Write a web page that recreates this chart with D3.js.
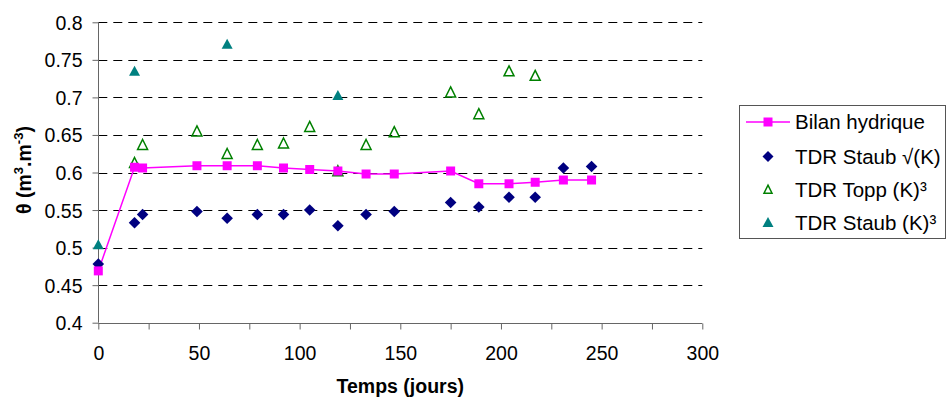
<!DOCTYPE html>
<html><head><meta charset="utf-8">
<script src="https://cdn.jsdelivr.net/npm/d3@7"></script>
<style>body{margin:0;background:#fff}svg{display:block;font-family:Arial,"Liberation Sans",sans-serif}</style>
</head><body><svg id="c" width="947" height="401"></svg>
<script>
const xTicks=[0,50,100,150,200,250,300];
const yTicks=[0.4,0.45,0.5,0.55,0.6,0.65,0.7,0.75,0.8];
const bilanDays=[0,18,22,49,64,79,92,105,119,133,147,175,189,204,217,231,245];
const bilanVals=[0.469,0.607,0.606,0.609,0.609,0.609,0.606,0.604,0.602,0.598,0.598,0.602,0.585,0.585,0.587,0.590,0.590];
const staubSqrtDays=[0,18,22,49,64,79,92,105,119,133,147,175,189,204,217,231,245];
const staubSqrtVals=[0.478,0.533,0.544,0.548,0.539,0.544,0.544,0.550,0.529,0.544,0.548,0.560,0.554,0.567,0.567,0.606,0.608];
const toppDays=[18,22,49,64,79,92,105,119,133,147,175,189,204,217];
const toppVals=[0.612,0.636,0.654,0.624,0.636,0.638,0.660,0.601,0.636,0.653,0.706,0.677,0.734,0.728];
const staubCubeDays=[0,18,64,119];
const staubCubeVals=[0.503,0.734,0.770,0.702];
const seriesNames=["Bilan hydrique","TDR Staub \u221A(K)","TDR Topp (K)\u00B3","TDR Staub (K)\u00B3"];

const svg=d3.select("#c");
const x=d3.scaleLinear().domain([0,300]).range([98.3,702.3]);
const y=d3.scaleLinear().domain([0.4,0.8]).range([322.7,22.3]);
const FS=19.5, LFS=20.5;

// gridlines
svg.append("g").selectAll("line").data(yTicks.filter(v=>v>0.4)).join("line")
 .attr("x1",x(0)).attr("x2",x(300)).attr("y1",d=>Math.round(y(d))+0.5).attr("y2",d=>Math.round(y(d))+0.5)
 .attr("stroke","#000").attr("stroke-width",1).attr("stroke-dasharray","9,6");

// axes
const xa=svg.append("g").attr("transform",`translate(0,${Math.round(y(0.4))+0.5})`)
 .call(d3.axisBottom(x).tickValues(d3.range(0,301,25)).tickSize(6).tickFormat(d=>xTicks.includes(d)?d:""));
xa.select(".domain").attr("stroke","#666").attr("d",`M${x(0)},0H${x(300)}`);
xa.selectAll(".tick line").attr("stroke","#666");
xa.selectAll("text").attr("font-size",FS).attr("font-family","Arial, Liberation Sans").attr("fill","#000").attr("dy",null).attr("y",36);

const ya=svg.append("g").attr("transform",`translate(${Math.round(x(0))+0.5},0)`)
 .call(d3.axisLeft(y).tickValues(yTicks).tickSize(6).tickFormat(d=>d3.format("")(+d.toFixed(2))));
ya.select(".domain").attr("stroke","#666").attr("d",`M0,${y(0.4)}V${y(0.8)}`);
ya.selectAll(".tick line").attr("stroke","#666");
ya.selectAll("text").attr("font-size",FS).attr("font-family","Arial, Liberation Sans").attr("fill","#000").attr("x",-16).attr("dy","0.36em");

// axis titles
svg.append("text").attr("x",(x(0)+x(300))/2).attr("y",393).attr("text-anchor","middle")
 .attr("font-weight","bold").attr("font-size",FS).text("Temps (jours)");
const yt=svg.append("text").attr("transform","translate(31,170) rotate(-90)").attr("text-anchor","middle")
 .attr("font-weight","bold").attr("font-size",FS);
yt.append("tspan").text("\u03B8 (m");
yt.append("tspan").attr("font-size",13).attr("dy",-8).text("3");
yt.append("tspan").attr("dy",8).text(".m");
yt.append("tspan").attr("font-size",13).attr("dy",-8).text("-3");
yt.append("tspan").attr("dy",8).text(")");

// markers
const sq=d3.symbol().type(d3.symbolSquare).size(81);
const dia=(s)=>`M0,${-s}L${s},0L0,${s}L${-s},0Z`;
const tri=(w,h)=>`M0,${-h*0.6}L${w/2},${h*0.4}L${-w/2},${h*0.4}Z`;

const bil=bilanDays.map((d,i)=>[d,bilanVals[i]]);
svg.append("path").datum(bil).attr("fill","none").attr("stroke","#FF00FF").attr("stroke-width",1.5)
 .attr("d",d3.line().x(d=>x(d[0])).y(d=>y(d[1])));

function plot(days,vals,pathStr,fill,stroke,sw){
 svg.append("g").selectAll("path").data(days.map((d,i)=>[d,vals[i]])).join("path")
  .attr("transform",d=>`translate(${x(d[0])},${y(d[1])})`).attr("d",pathStr)
  .attr("fill",fill).attr("stroke",stroke).attr("stroke-width",sw);
}
plot(staubCubeDays,staubCubeVals,tri(11,10),"#008080","none",0);
plot(toppDays,toppVals,tri(10,10),"none","#008000",1.5);
plot(staubSqrtDays,staubSqrtVals,dia(5.8),"#000080","none",0);
plot(bilanDays,bilanVals,sq(),"#FF00FF","none",0);

// legend
const lg=svg.append("g");
lg.append("rect").attr("x",739.5).attr("y",105.5).attr("width",206).attr("height",133)
 .attr("fill","#fff").attr("stroke","#555").attr("stroke-width",1);
const ly=[122,156.5,190,223];
const lx=768;
lg.append("line").attr("x1",746).attr("x2",790).attr("y1",ly[0]).attr("y2",ly[0]).attr("stroke","#FF00FF").attr("stroke-width",1.5);
lg.append("path").attr("transform",`translate(${lx},${ly[0]})`).attr("d",sq()).attr("fill","#FF00FF");
lg.append("path").attr("transform",`translate(${lx},${ly[1]})`).attr("d",dia(5.5)).attr("fill","#000080");
lg.append("path").attr("transform",`translate(${lx},${ly[2]})`).attr("d",tri(8,8)).attr("fill","none").attr("stroke","#008000").attr("stroke-width",1.5);
lg.append("path").attr("transform",`translate(${lx},${ly[3]})`).attr("d",tri(11,10)).attr("fill","#008080");
lg.selectAll("text.l").data(seriesNames).join("text").attr("class","l")
 .attr("x",795).attr("y",(d,i)=>ly[i]+7).attr("font-size",LFS).text(d=>d);
</script></body></html>
